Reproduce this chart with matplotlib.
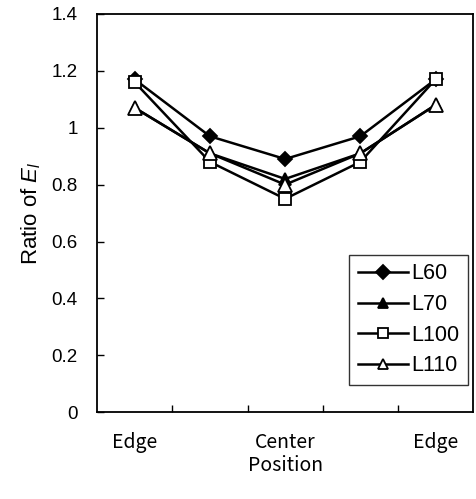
import matplotlib.pyplot as plt
import numpy as np

positions = [0, 1, 2, 3, 4]
tick_labels = ['Edge', 'Center', 'Edge']
l60 = [1.17, 0.97, 0.89, 0.97, 1.17]
l70 = [1.07, 0.91, 0.82, 0.91, 1.08]
l100 = [1.16, 0.88, 0.75, 0.88, 1.17]
l110 = [1.07, 0.91, 0.80, 0.91, 1.08]

plt.rcParams['font.family'] = ['Liberation Sans', 'DejaVu Sans']
plt.rcParams['mathtext.fontset'] = 'custom'
plt.rcParams['mathtext.it'] = 'Liberation Sans:italic'
plt.rcParams['mathtext.rm'] = 'Liberation Sans'

fig = plt.figure(figsize=(4.76, 4.99), dpi=100)
ax = fig.add_axes([0.204, 0.174, 0.790, 0.798])

style = dict(color='black', linewidth=1.8, markeredgecolor='black', markeredgewidth=1.3)
ax.plot(positions, l60, marker='D', markersize=7.5, markerfacecolor='black', label='L60', **style)
ax.plot(positions, l70, marker='^', markersize=9, markerfacecolor='black', label='L70', **style)
ax.plot(positions, l100, marker='s', markersize=9, markerfacecolor='white', label='L100', **style)
ax.plot(positions, l110, marker='^', markersize=10, markerfacecolor='white', label='L110', **style)

ax.set_xlim(-0.5, 4.5)
ax.set_ylim(0, 1.4)
ax.set_yticks(np.arange(0, 1.41, 0.2))
ax.set_yticklabels(['0', '0.2', '0.4', '0.6', '0.8', '1', '1.2', '1.4'])
ax.tick_params(axis='y', direction='in', length=5, width=1, labelsize=13.5, pad=14)

# labels sit under the points, tick marks sit between them
ax.set_xticks([0, 2, 4])
ax.set_xticklabels(tick_labels, family=['Noto Sans CJK JP', 'DejaVu Sans'], fontsize=14)
ax.set_xticks([0.5, 1.5, 2.5, 3.5], minor=True)
ax.tick_params(axis='x', which='major', length=0, pad=14)
ax.tick_params(axis='x', which='minor', direction='in', length=5, width=1)

ax.set_xlabel('Position', family=['Noto Sans CJK JP', 'DejaVu Sans'], fontsize=14, labelpad=2)
ax.set_ylabel('Ratio of $\\it{E_l}$', fontsize=16, labelpad=6)

for spine in ax.spines.values():
    spine.set_linewidth(1.3)

leg = ax.legend(loc='lower right', bbox_to_anchor=(0.985, 0.068), fontsize=15.5, frameon=True,
                fancybox=False, edgecolor='black', handlelength=2.3, handletextpad=0.15,
                labelspacing=0.45, borderpad=0.4, borderaxespad=0)
leg.get_frame().set_linewidth(1.0)
for h in leg.legend_handles:
    h.set_markersize(7)

fig.savefig('out.png', dpi=100)
